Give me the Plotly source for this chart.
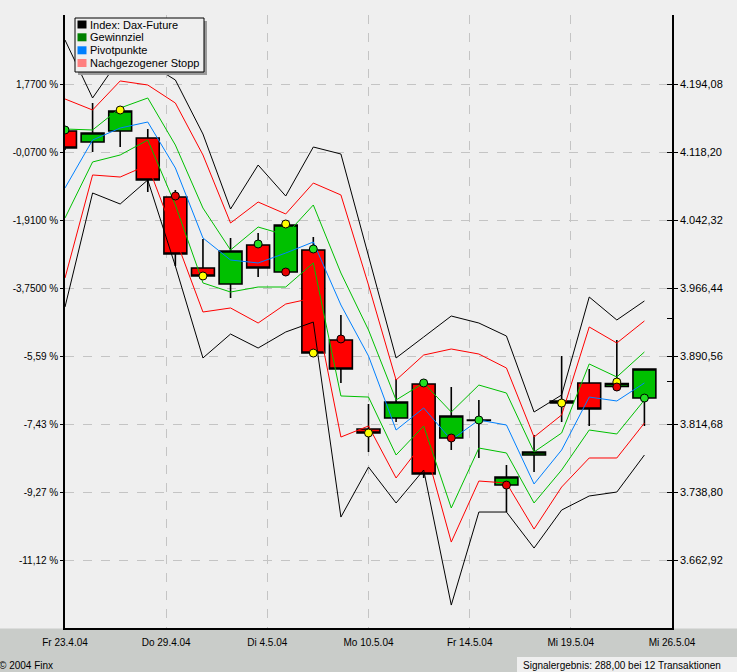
import plotly.graph_objects as go

W, H = 737, 672
ML, MR, MT, MB = 65, 65, 15, 44

# ---------------- data ----------------
date_labels = ["Fr 23.4.04", "Do 29.4.04", "Di 4.5.04", "Mo 10.5.04",
               "Fr 14.5.04", "Mi 19.5.04", "Mi 26.5.04"]
date_pos = [0, 3.667, 7.333, 11, 14.667, 18.333, 22]

price_ticks = [4194.08, 4118.20, 4042.32, 3966.44, 3890.56, 3814.68, 3738.80, 3662.92]
price_labels = ["4.194,08", "4.118,20", "4.042,32", "3.966,44",
                "3.890,56", "3.814,68", "3.738,80", "3.662,92"]
pct_labels = ["1,7700 %", "-0,0700 %", "-1,9100 %", "-3,7500 %",
              "-5,59 %", "-7,43 %", "-9,27 %", "-11,12 %"]
level_marks = [3933.3, 3861.9]

days = list(range(22))

opens = [4142.0, 4129.7, 4142.0, 4134.2, 4068.3, 3989.1, 3971.2, 4014.8, 3984.6, 4009.2, 3908.7,
         3809.4, 3821.7, 3859.6, 3799.4, 3819.1, 3746.9, 3780.4, 3838.4, 3860.8, 3856.9, 3844.0]
highs = [4145.3, 4173.2, 4165.4, 4144.2, 4076.1, 4021.5, 4022.6, 4028.2, 4038.2, 4023.7, 3936.6,
         3837.3, 3865.2, 3860.8, 3856.3, 3841.8, 3769.3, 3802.7, 3890.9, 3876.4, 3908.7, 3876.4]
lows = [4120.8, 4118.5, 4124.1, 4073.9, 3991.3, 3976.8, 3955.6, 3979.1, 3980.2, 3892.0, 3860.8,
        3783.8, 3817.2, 3754.8, 3786.0, 3777.1, 3716.8, 3761.5, 3817.2, 3812.8, 3851.8, 3812.8]
closes = [4123.0, 4139.7, 4164.3, 4087.3, 4004.7, 3980.2, 4008.1, 3989.1, 4037.1, 3894.2, 3876.4,
          3805.0, 3839.6, 3759.2, 3823.9, 3819.5, 3755.9, 3783.8, 3840.7, 3831.8, 3860.2, 3876.4]

black_upper = [4243.5, 4178.8, 4223.4, 4217.9, 4198.9, 4138.6, 4054.9, 4104.0, 4069.4, 4124.1, 4116.3,
               4001.4, 3888.7, 3912.1, 3935.5, 3927.7, 3913.2, 3828.4, 3847.4, 3956.7, 3931.1, 3952.3]
red_upper = [4177.7, 4165.4, 4197.8, 4193.3, 4173.2, 4115.2, 4039.3, 4062.7, 4049.4, 4083.9, 4070.6,
             3970.1, 3864.1, 3892.0, 3898.7, 3893.1, 3877.5, 3800.5, 3825.1, 3923.3, 3905.4, 3930.0]
green_upper = [4144.2, 4143.1, 4167.6, 4178.8, 4126.3, 4056.0, 4009.2, 4034.8, 4025.9, 4059.4, 3983.5,
               3919.9, 3841.8, 3860.8, 3828.4, 3858.5, 3849.6, 3783.8, 3805.0, 3882.0, 3867.5, 3895.4]
pivot = [4078.4, 4131.9, 4145.3, 4152.0, 4100.7, 4022.6, 3998.0, 3994.7, 4005.8, 4018.1, 3947.8,
         3890.9, 3808.3, 3832.9, 3797.2, 3819.5, 3813.9, 3748.1, 3786.0, 3845.1, 3840.7, 3860.8]
green_lower = [4044.9, 4107.4, 4115.2, 4131.9, 4059.4, 3972.4, 3962.3, 3967.9, 3967.9, 3994.7, 3846.3,
               3845.1, 3780.4, 3812.8, 3721.3, 3788.2, 3782.7, 3726.9, 3763.7, 3808.3, 3803.9, 3841.8]
red_lower = [3977.9, 4092.9, 4090.6, 4104.0, 4022.6, 3940.0, 3944.5, 3927.7, 3948.9, 3955.6, 3800.5,
             3812.8, 3754.8, 3794.9, 3683.3, 3751.4, 3749.2, 3697.8, 3744.7, 3777.1, 3777.1, 3816.1]
black_lower = [3945.6, 4072.8, 4060.5, 4087.3, 3991.3, 3888.7, 3915.4, 3899.8, 3917.7, 3928.8, 3711.2,
               3767.0, 3726.9, 3763.7, 3613.0, 3716.8, 3716.8, 3676.6, 3719.0, 3734.7, 3739.1, 3780.4]

sig_day = [0, 2, 4, 5, 7, 8, 8, 9, 9, 10, 11, 13, 14, 15, 16, 18, 20, 20, 21]
sig_price = [4143.1, 4165.4, 4069.4, 3980.2, 4015.9, 4038.2, 3984.6, 4010.3, 3894.2, 3909.9, 3805.0,
             3860.8, 3799.4, 3819.5, 3746.9, 3838.4, 3861.9, 3856.3, 3844.0]
sig_kind = ["green", "yellow", "red", "yellow", "green", "yellow", "red", "green", "yellow", "red",
            "yellow", "green", "red", "green", "red", "yellow", "yellow", "red", "green"]

legend_names = ["Index: Dax-Future", "Gewinnziel", "Pivotpunkte", "Nachgezogener Stopp"]
legend_colors = ["#000000", "#008000", "#0080ff", "#ff8080"]

signal_text = "Signalergebnis: 288,00 bei 12 Transaktionen"
copyright_text = "\u00a9 2004 Finx"

# ---------------- figure ----------------
yr = [3587.4, 4271.4]
fig = go.Figure()

line_specs = [
    (black_upper, "#000000"), (red_upper, "#ff0000"), (green_upper, "#00c000"),
    (pivot, "#0080ff"), (green_lower, "#00c000"), (red_lower, "#ff0000"),
    (black_lower, "#000000"),
]
for vals, col in line_specs:
    fig.add_trace(go.Scatter(x=days, y=vals, mode="lines",
                             line=dict(color=col, width=1), hoverinfo="skip"))

fig.add_trace(go.Candlestick(
    x=days, open=opens, high=highs, low=lows, close=closes,
    increasing=dict(fillcolor="#00c000", line=dict(color="#000000", width=1.6)),
    decreasing=dict(fillcolor="#ff0000", line=dict(color="#000000", width=1.6)),
    whiskerwidth=0,
))

kind_color = {"green": "#22e022", "yellow": "#ffff00", "red": "#e80000"}
fig.add_trace(go.Scatter(
    x=sig_day, y=sig_price, mode="markers",
    marker=dict(size=8, color=[kind_color[k] for k in sig_kind],
                line=dict(color="#000000", width=1)),
    hoverinfo="skip"))

fig.add_trace(go.Scatter(x=[None], y=[None], yaxis="y2", showlegend=False))
fig.add_trace(go.Scatter(x=[None], y=[None], yaxis="y3", showlegend=False))

grid_col = "#c4c4c4"
fig.update_layout(
    width=W, height=H,
    margin=dict(l=ML, r=MR, t=MT, b=MB, pad=0),
    paper_bgcolor="#efefef", plot_bgcolor="#efefef",
    showlegend=False, boxgap=0.17, boxgroupgap=0,
    font=dict(family="Arial", size=10, color="#000000"),
    xaxis=dict(range=[0, 22], tickvals=date_pos, ticktext=date_labels,
               showgrid=True, gridcolor=grid_col, griddash="dash", gridwidth=1,
               showline=True, linecolor="#000000", linewidth=1.5, ticks="",
               ticklabelstandoff=4,
               zeroline=False, rangeslider=dict(visible=False), fixedrange=True,
               tickfont=dict(size=10)),
    yaxis=dict(range=yr, tickvals=price_ticks, ticktext=pct_labels,
               showgrid=True, gridcolor=grid_col, griddash="dash", gridwidth=1,
               showline=True, linecolor="#000000", linewidth=1.5,
               ticks="outside", ticklen=3, tickcolor="#000000",
               zeroline=False, tickfont=dict(size=10)),
    yaxis2=dict(range=yr, overlaying="y", side="right", tickvals=price_ticks,
                ticktext=price_labels, showgrid=False, showline=True,
                linecolor="#000000", linewidth=1.5, ticks="outside", ticklen=4,
                tickcolor="#000000", zeroline=False, tickfont=dict(size=11)),
    yaxis3=dict(range=yr, overlaying="y", side="right",
                tickvals=price_ticks + level_marks, showticklabels=False,
                showgrid=False, showline=False, ticks="inside", ticklen=5,
                tickcolor="#000000", zeroline=False),
)


def px(x):
    return (x - ML) / (W - ML - MR)


def py(y):
    return (H - MB - y) / (H - MT - MB)


shapes = [
    dict(type="rect", xref="paper", yref="paper", x0=px(0), x1=px(W), y0=py(H), y1=py(628.5),
         fillcolor="#c9ccc9", line=dict(width=0), layer="below"),
    dict(type="rect", xref="paper", yref="paper", x0=px(517), x1=px(W), y0=py(H), y1=py(657),
         fillcolor="#efefef", line=dict(width=0), layer="below"),
    # legend shadow and frame
    dict(type="rect", xref="paper", yref="paper", x0=px(78), x1=px(207), y0=py(75), y1=py(21),
         fillcolor="#9a9a9a", line=dict(width=0), layer="above"),
    dict(type="rect", xref="paper", yref="paper", x0=px(75), x1=px(204), y0=py(72), y1=py(18),
         fillcolor="#efefef", line=dict(color="#000000", width=1), layer="above"),
]
annotations = []
row_y = [24.5, 37.3, 50.3, 63.0]
for name, col, ry in zip(legend_names, legend_colors, row_y):
    shapes.append(dict(type="rect", xref="paper", yref="paper", x0=px(77.5), x1=px(86.5),
                       y0=py(ry + 4), y1=py(ry - 4), fillcolor=col, line=dict(width=0),
                       layer="above"))
    annotations.append(dict(xref="paper", yref="paper", x=px(88), y=py(ry), text=name,
                            showarrow=False, xanchor="left", yanchor="middle",
                            font=dict(size=11, color="#000000")))

annotations.append(dict(xref="paper", yref="paper", x=px(521), y=py(665), text=signal_text,
                        showarrow=False, xanchor="left", yanchor="middle",
                        font=dict(size=10, color="#000000")))
annotations.append(dict(xref="paper", yref="paper", x=px(-3), y=py(665), text=copyright_text,
                        showarrow=False, xanchor="left", yanchor="middle",
                        font=dict(size=10, color="#000000")))

fig.update_layout(shapes=shapes, annotations=annotations)

fig.write_html(
    "out.html",
    config={"displayModeBar": False},
    post_script="document.body.style.margin='0px';document.body.style.overflow='hidden';"
                "document.body.style.background='#efefef';",
)
